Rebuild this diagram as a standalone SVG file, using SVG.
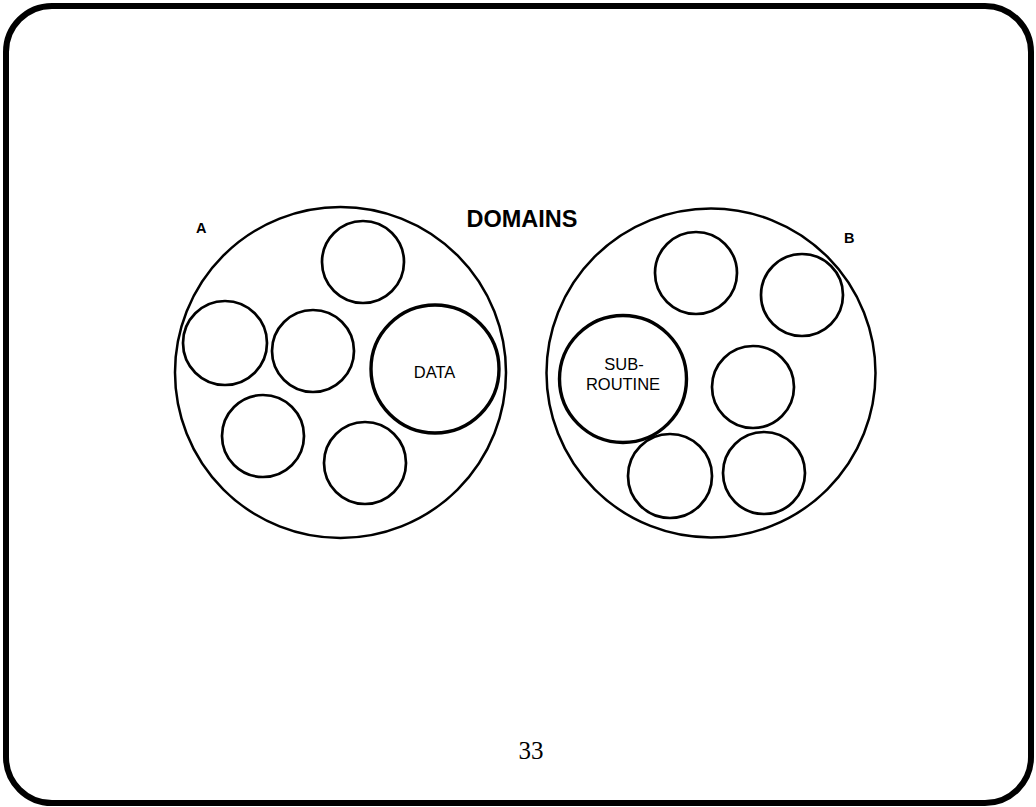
<svg xmlns="http://www.w3.org/2000/svg" width="1036" height="807" viewBox="0 0 1036 807">
  <style>
    .frame { fill: none; stroke: #000; stroke-width: 6; }
    .domain { fill: none; stroke: #000; stroke-width: 2.5; }
    .module { fill: none; stroke: #000; stroke-width: 2.7; }
    .named { fill: none; stroke: #000; stroke-width: 3.4; }
    .title { font-family: "Liberation Sans", Arial, sans-serif; font-weight: bold; font-size: 23.5px; fill: #000; }
    .tag { font-family: "Liberation Sans", Arial, sans-serif; font-weight: bold; font-size: 14.5px; fill: #000; }
    .label { font-family: "Liberation Sans", Arial, sans-serif; font-size: 16.5px; fill: #000; text-anchor: middle; }
    .page { font-family: "Liberation Serif", "Times New Roman", serif; font-size: 25px; fill: #000; text-anchor: middle; }
  </style>

  <rect class="frame" x="6" y="6" width="1025" height="797" rx="46" ry="46"/>

  <text id="title" class="title" x="522" y="227" text-anchor="middle">DOMAINS</text>

  <!-- Domain A -->
  <g id="domain-a">
    <circle class="domain" cx="340.5" cy="372.5" r="165.5"/>
    <text class="tag" x="196" y="233">A</text>
  </g>
  <g id="a-top"><circle class="module" cx="363" cy="262" r="41"/></g>
  <g id="a-left"><circle class="module" cx="225" cy="343" r="42"/></g>
  <g id="a-middle"><circle class="module" cx="313" cy="351" r="41"/></g>
  <g id="a-data">
    <circle class="named" cx="435" cy="369" r="64"/>
    <text class="label" x="434.5" y="378">DATA</text>
  </g>
  <g id="a-lower-left"><circle class="module" cx="263" cy="436" r="41"/></g>
  <g id="a-lower-right"><circle class="module" cx="365" cy="463" r="41"/></g>

  <!-- Domain B -->
  <g id="domain-b">
    <circle class="domain" cx="711" cy="373" r="164.5"/>
    <text class="tag" x="844" y="243">B</text>
  </g>
  <g id="b-subroutine">
    <circle class="named" cx="623" cy="379" r="63.5"/>
    <text class="label" x="624" y="370">SUB-</text>
    <text class="label" x="623" y="390">ROUTINE</text>
  </g>
  <g id="b-top"><circle class="module" cx="696" cy="273" r="41"/></g>
  <g id="b-top-right"><circle class="module" cx="802" cy="295" r="41"/></g>
  <g id="b-middle"><circle class="module" cx="753" cy="387" r="41"/></g>
  <g id="b-lower-left"><circle class="module" cx="670" cy="476" r="42"/></g>
  <g id="b-lower-right"><circle class="module" cx="764" cy="473" r="41"/></g>

  <text id="page-number" class="page" x="531" y="759">33</text>
</svg>
